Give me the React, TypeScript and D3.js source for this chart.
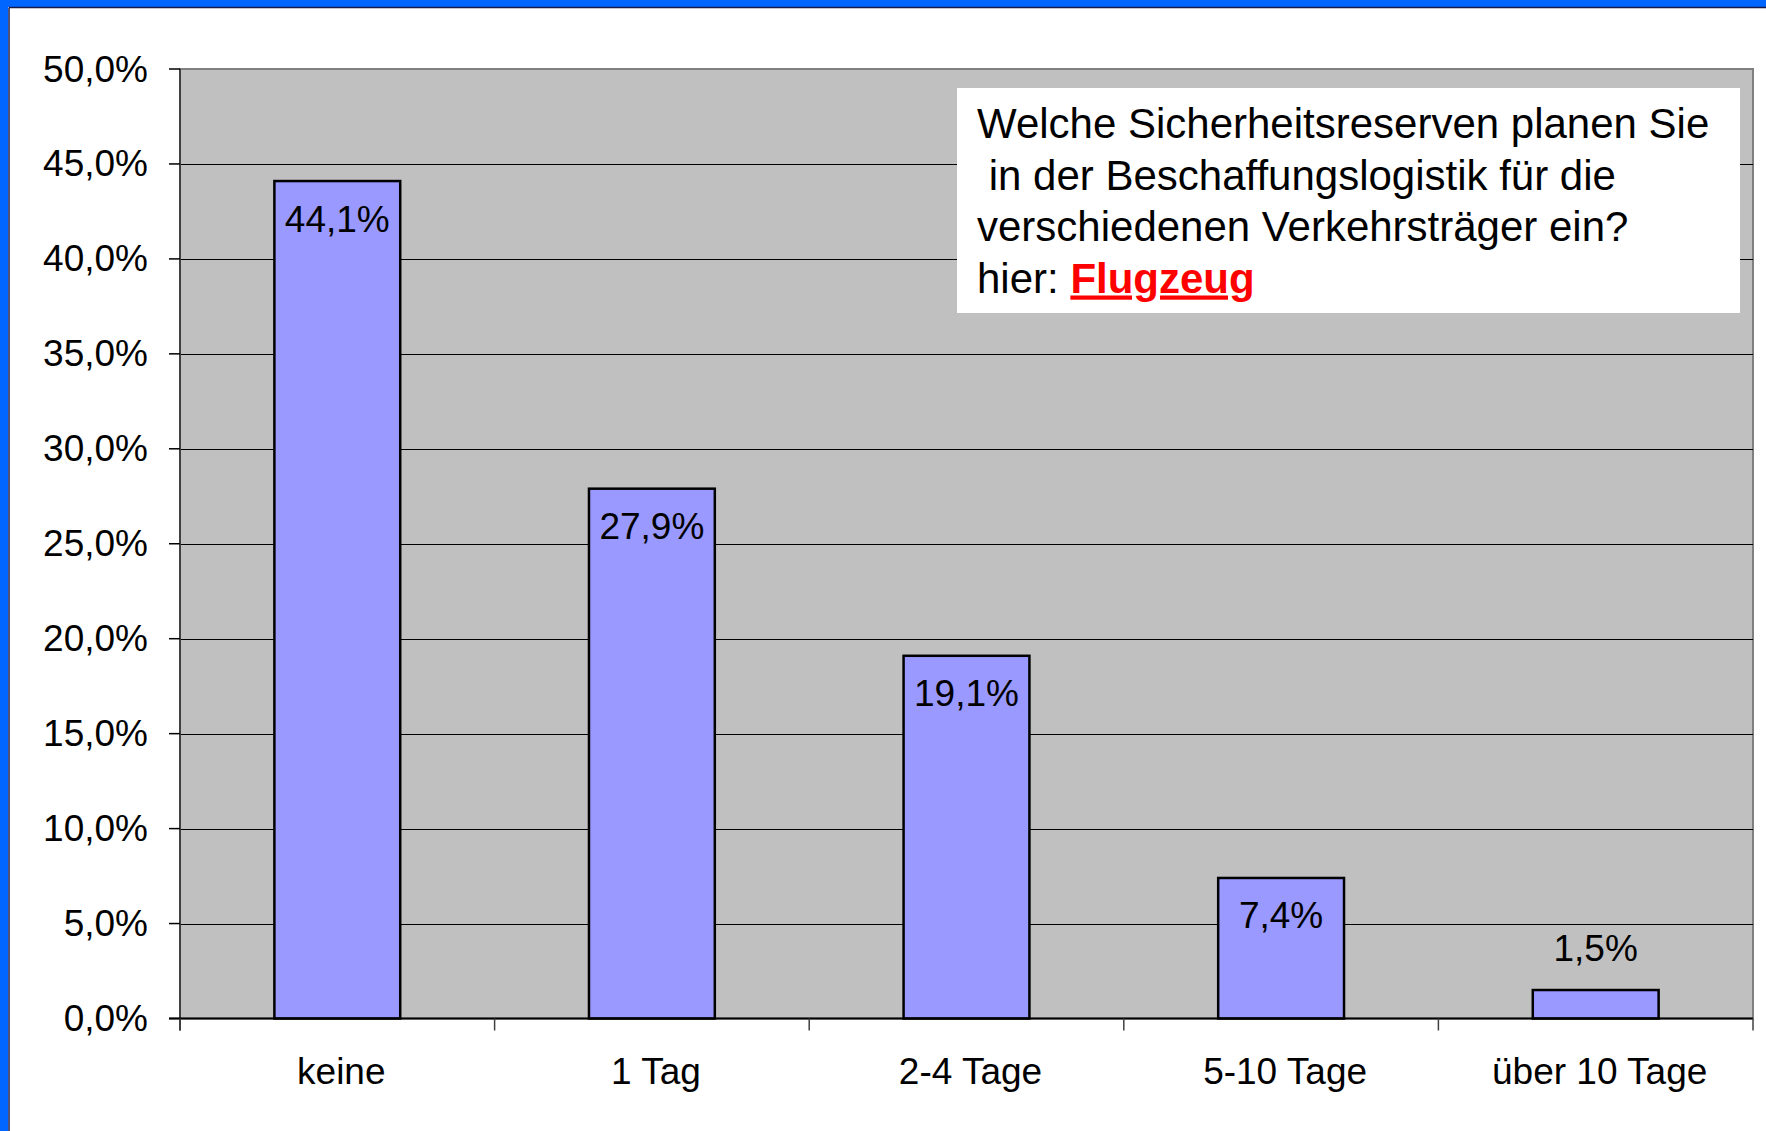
import * as d3 from "d3";

const CATEGORIES = ["keine", "1 Tag", "2-4 Tage", "5-10 Tage", "über 10 Tage"];
const VALUES = [44.1, 27.9, 19.1, 7.4, 1.5];
const Y_TICKS = [0, 5, 10, 15, 20, 25, 30, 35, 40, 45, 50];
const QUESTION = [
  "Welche Sicherheitsreserven planen Sie",
  " in der Beschaffungslogistik für die",
  "verschiedenen Verkehrsträger ein?",
];
const HIGHLIGHT = "Flugzeug";

const W = 1766;
const H = 1131;
const FONT = "'Liberation Sans', Arial, sans-serif";

const fmt = (v: number, digits: number) => v.toFixed(digits).replace(".", ",") + "%";

export default function App() {
  const plot = { left: 180, right: 1753, top: 69, bottom: 1018.5 };

  const x = d3
    .scaleBand<string>()
    .domain(CATEGORIES)
    .range([plot.left, plot.right])
    .paddingInner(0.6)
    .paddingOuter(0.3);

  const y = d3.scaleLinear().domain([0, 50]).range([plot.bottom, plot.top]);

  const step = x.step();
  const boundaries = d3.range(CATEGORIES.length + 1).map((i) => plot.left + i * step);

  return (
    <svg
      width={W}
      height={H}
      style={{ position: "absolute", left: 0, top: 0, background: "#fff" }}
      fontFamily={FONT}
    >
      {/* slide frame */}
      <rect x={0} y={0} width={W} height={7} fill="#0066FF" />
      <rect x={0} y={0} width={8} height={H} fill="#0066FF" />
      <line x1={9} x2={W} y1={7.5} y2={7.5} stroke="#1a1a4a" strokeWidth={1.5} />
      <line x1={9} x2={9} y1={7.5} y2={H} stroke="#1a1a4a" strokeWidth={1.5} />

      {/* plot area */}
      <rect
        x={plot.left}
        y={plot.top}
        width={plot.right - plot.left}
        height={plot.bottom - plot.top}
        fill="#C0C0C0"
        stroke="#808080"
        strokeWidth={2}
      />

      {/* gridlines */}
      {Y_TICKS.filter((t) => t > 0 && t < 50).map((t) => (
        <line
          key={t}
          x1={plot.left}
          x2={plot.right}
          y1={Math.round(y(t)) + 0.5}
          y2={Math.round(y(t)) + 0.5}
          stroke="#000"
          strokeWidth={1}
        />
      ))}

      {/* question box */}
      <rect x={957} y={88} width={783} height={225} fill="#fff" />
      <g fontSize={42} fill="#000">
        {QUESTION.map((line, i) => (
          <text key={i} x={977} y={138 + i * 51.5} xmlSpace="preserve" style={{ whiteSpace: "pre" }}>
            {line}
          </text>
        ))}
        <text x={977} y={138 + 3 * 51.5}>
          hier:{" "}
          <tspan fill="#FF0000" fontWeight="bold" textDecoration="underline">
            {HIGHLIGHT}
          </tspan>
        </text>
      </g>

      {/* bars */}
      {VALUES.map((v, i) => (
        <rect
          key={CATEGORIES[i]}
          x={x(CATEGORIES[i])}
          y={y(v)}
          width={x.bandwidth()}
          height={y(0) - y(v)}
          fill="#9999FF"
          stroke="#000"
          strokeWidth={2.5}
        />
      ))}

      {/* data labels */}
      {VALUES.map((v, i) => {
        const inside = y(0) - y(v) > 80;
        return (
          <text
            key={CATEGORIES[i]}
            x={(x(CATEGORIES[i]) ?? 0) + x.bandwidth() / 2}
            y={inside ? y(v) + 38 : y(v) - 42}
            textAnchor="middle"
            dominantBaseline="central"
            fontSize={37}
            fill="#000"
          >
            {fmt(v, 1)}
          </text>
        );
      })}

      {/* axes */}
      <line x1={plot.left} x2={plot.left} y1={plot.top} y2={plot.bottom + 12} stroke="#404040" strokeWidth={2} />
      <line x1={plot.left - 11} x2={plot.right} y1={plot.bottom} y2={plot.bottom} stroke="#000" strokeWidth={2} />
      {Y_TICKS.map((t) => (
        <g key={t}>
          <line x1={plot.left - 11} x2={plot.left} y1={y(t)} y2={y(t)} stroke="#000" strokeWidth={1.5} />
          <text
            x={148}
            y={y(t)}
            textAnchor="end"
            dominantBaseline="central"
            fontSize={37}
            fill="#000"
          >
            {fmt(t, 1)}
          </text>
        </g>
      ))}
      {boundaries.map((bx, i) => (
        <line key={i} x1={bx} x2={bx} y1={plot.bottom} y2={plot.bottom + 12} stroke="#404040" strokeWidth={1.5} />
      ))}
      {CATEGORIES.map((c) => (
        <text
          key={c}
          x={(x(c) ?? 0) + x.bandwidth() / 2 + 4}
          y={1084}
          textAnchor="middle"
          fontSize={37}
          fill="#000"
        >
          {c}
        </text>
      ))}
    </svg>
  );
}
